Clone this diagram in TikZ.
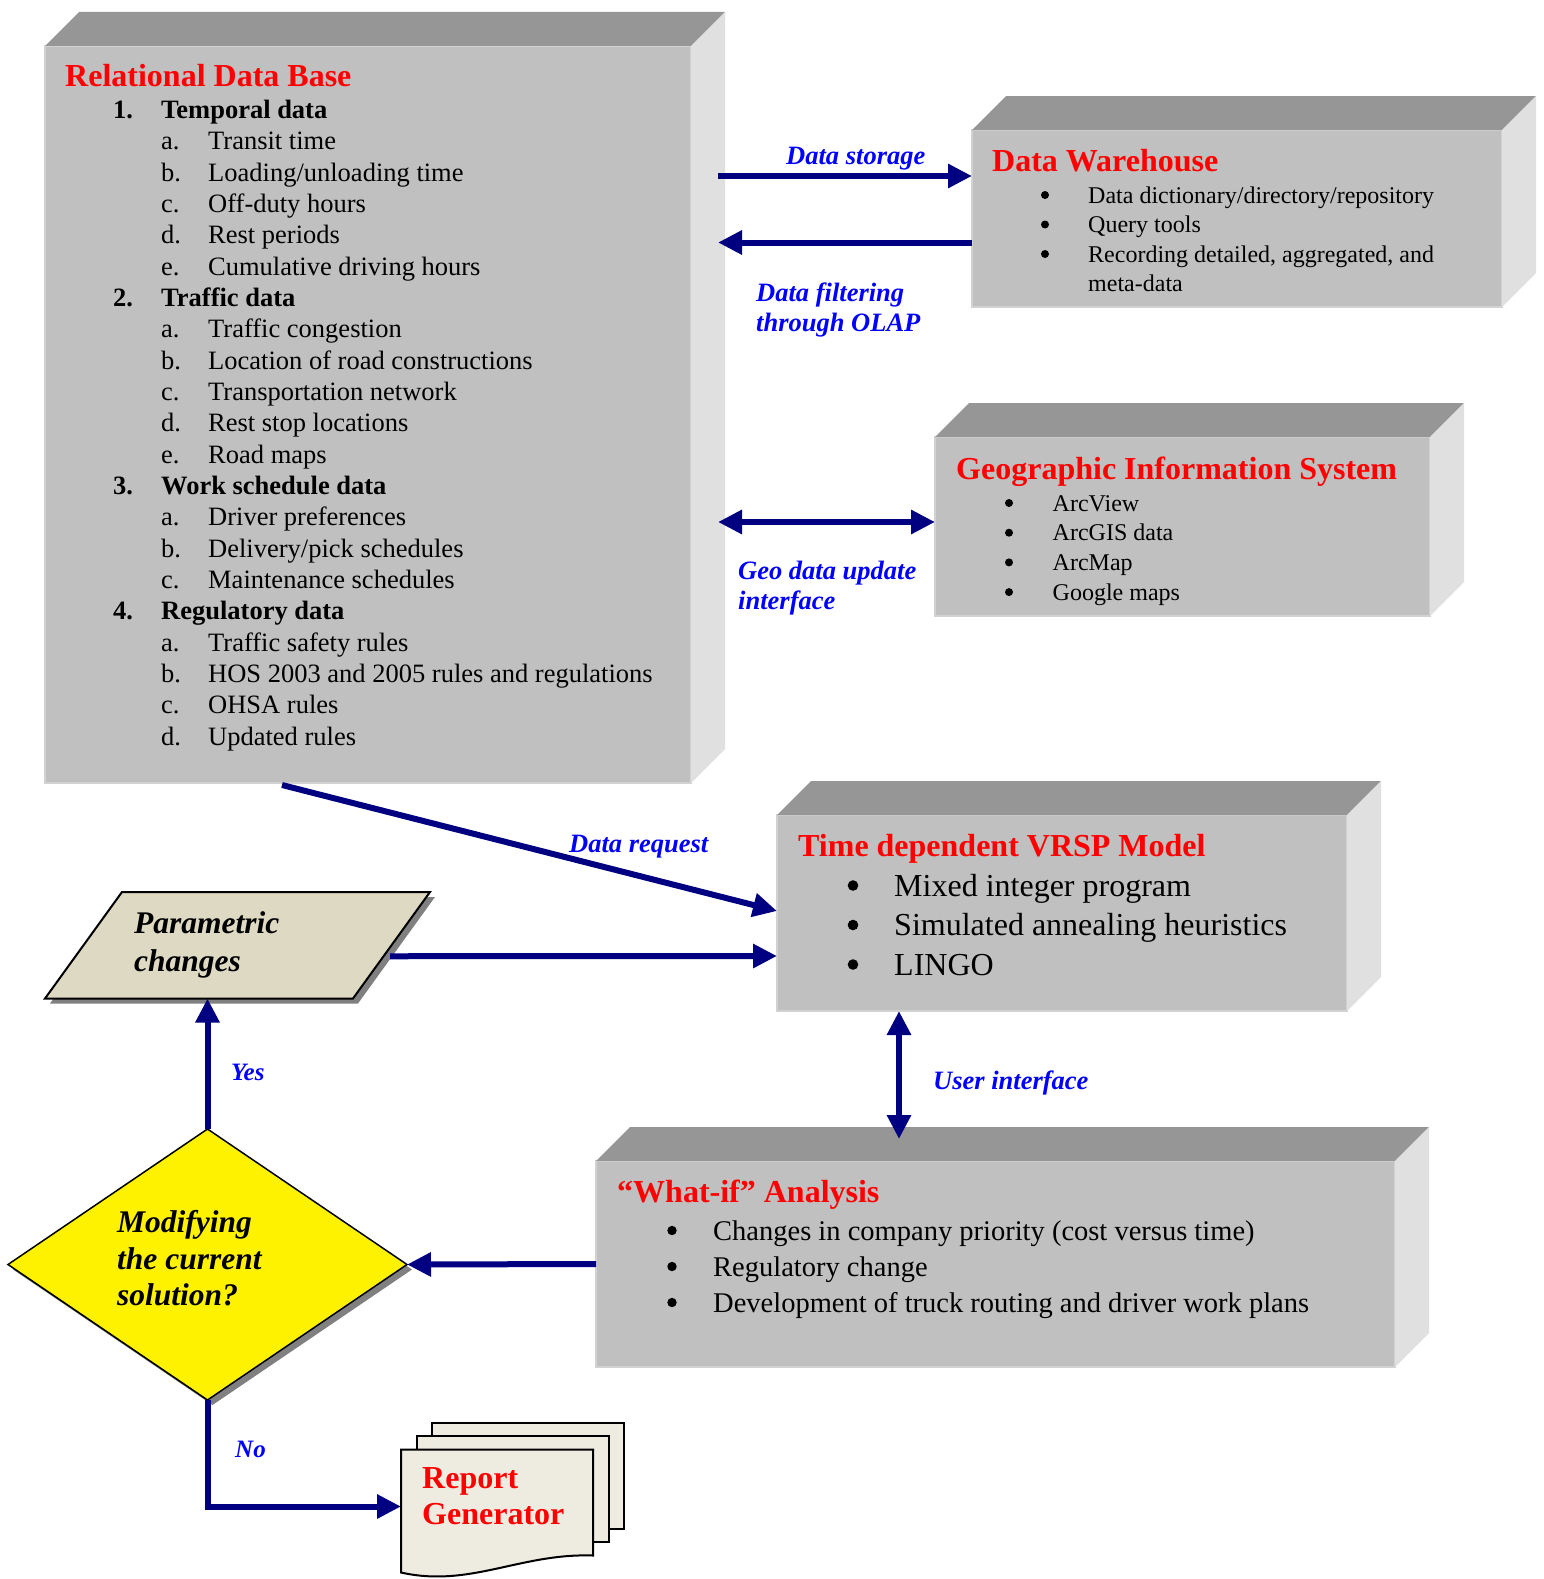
\documentclass[tikz,border=0pt]{standalone}
\usepackage{fontspec}
\setmainfont{Liberation Serif}
\usepackage{tikz}
\usetikzlibrary{positioning, arrows.meta, calc, shapes.geometric, shadows}
\definecolor{boxgray}{HTML}{C0C0C0}
\definecolor{boxtop}{HTML}{969696}
\definecolor{boxside}{HTML}{E0E0E0}
\definecolor{boxedge}{HTML}{D2D2D2}
\definecolor{flownavy}{HTML}{000080}
\definecolor{lblblue}{HTML}{0000FF}
\definecolor{titlered}{HTML}{FF0000}
\definecolor{paramtan}{HTML}{DDD9C3}
\definecolor{reportbg}{HTML}{EEECE1}
\definecolor{shadowgray}{HTML}{808080}

\begin{document}
\begin{tikzpicture}[
    x=1pt, y=-1pt,
    front/.style={
      rectangle, fill=boxgray, draw=boxedge, line width=1.5pt,
      inner sep=0pt, outer sep=0pt, anchor=north west
    },
    topface/.style={fill=boxtop},
    sideface/.style={fill=boxside},
    boxtitle/.style={
      anchor=base west, inner sep=0pt, text=titlered,
      font=\fontsize{32}{37}\selectfont\bfseries
    },
    boxlist/.style={anchor=base west, inner sep=0pt},
    lbl/.style={
      anchor=base west, inner sep=0pt, text=lblblue,
      font=\fontsize{26.5}{30.5}\selectfont\bfseries\itshape
    },
    blacklbl/.style={
      anchor=base west, inner sep=0pt,
      font=\fontsize{31.5}{37.5}\selectfont\bfseries\itshape
    },
    flow/.style={-{Triangle[length=24pt, width=23pt]}, line width=6pt, draw=flownavy},
    flowboth/.style={{Triangle[length=24pt, width=23pt]}-{Triangle[length=24pt, width=23pt]},
      line width=6pt, draw=flownavy},
    sheet/.style={fill=reportbg, draw=black, line width=2pt},
    shadowed/.style={drop shadow={shadow xshift=5pt, shadow yshift=-5pt,
      fill=shadowgray, opacity=1}},
  ]
  \useasboundingbox (0,0) rectangle (1543,1579);

  % 3D boxes
  \node[front, minimum width=646pt, minimum height=737pt] (rdb)    at (45,46)    {};
  \node[front, minimum width=530pt, minimum height=177pt] (dw)     at (972,130)  {};
  \node[front, minimum width=495pt, minimum height=179pt] (gis)    at (935,437)  {};
  \node[front, minimum width=570pt, minimum height=196pt] (vrsp)   at (777,815)  {};
  \node[front, minimum width=799pt, minimum height=206pt] (whatif) at (596,1161) {};

  \foreach \b in {rdb, dw, gis, vrsp, whatif} {
    \fill[topface] (\b.north west) -- ++(34,-34) -- ($(\b.north east)+(34,-34)$)
      -- (\b.north east) -- cycle;
    \fill[sideface] (\b.north east) -- ++(34,-34) -- ($(\b.south east)+(34,-34)$)
      -- (\b.south east) -- cycle;
  }

  \node[boxtitle] (rdbtitle) at (65,86) {Relational Data Base};
  \node[boxlist, font=\fontsize{26.5}{31.33}\selectfont] (rdblist) at (113,118.5) {%
    \begin{tabular}[t]{@{}p{48pt}@{}p{47pt}@{}l@{}}
      \textbf{1.} & \multicolumn{2}{@{}l@{}}{\textbf{Temporal data}}\\
      & a. & Transit time\\
      & b. & Loading/unloading time\\
      & c. & Off-duty hours\\
      & d. & Rest periods\\
      & e. & Cumulative driving hours\\
      \textbf{2.} & \multicolumn{2}{@{}l@{}}{\textbf{Traffic data}}\\
      & a. & Traffic congestion\\
      & b. & Location of road constructions\\
      & c. & Transportation network\\
      & d. & Rest stop locations\\
      & e. & Road maps\\
      \textbf{3.} & \multicolumn{2}{@{}l@{}}{\textbf{Work schedule data}}\\
      & a. & Driver preferences\\
      & b. & Delivery/pick schedules\\
      & c. & Maintenance schedules\\
      \textbf{4.} & \multicolumn{2}{@{}l@{}}{\textbf{Regulatory data}}\\
      & a. & Traffic safety rules\\
      & b. & HOS 2003 and 2005 rules and regulations\\
      & c. & OHSA rules\\
      & d. & Updated rules
    \end{tabular}};

  \node[boxtitle] (dwtitle) at (992,171) {Data Warehouse};
  \node[boxlist, font=\fontsize{24}{29.5}\selectfont] (dwlist) at (1088,203) {%
    \begin{tabular}[t]{@{}l@{}}
      Data dictionary/directory/repository\\
      Query tools\\
      Recording detailed, aggregated, and\\
      meta-data
    \end{tabular}};
  \foreach \k in {0,1,2}
    \fill ($(dwlist.base west)+(-43,{-8+29.5*\k})$) circle[radius=4pt];

  \node[boxtitle] (gistitle) at (956,479) {Geographic Information System};
  \node[boxlist, font=\fontsize{24}{29.7}\selectfont] (gislist) at (1052.5,511) {%
    \begin{tabular}[t]{@{}l@{}}
      ArcView\\
      ArcGIS data\\
      ArcMap\\
      Google maps
    \end{tabular}};
  \foreach \k in {0,1,2,3}
    \fill ($(gislist.base west)+(-43.5,{-8+29.7*\k})$) circle[radius=4pt];

  \node[boxtitle] (vrsptitle) at (798,856.5) {Time dependent VRSP Model};
  \node[boxlist, font=\fontsize{32}{39.5}\selectfont] (vrsplist) at (894,896) {%
    \begin{tabular}[t]{@{}l@{}}
      Mixed integer program\\
      Simulated annealing heuristics\\
      LINGO
    \end{tabular}};
  \foreach \k in {0,1,2}
    \fill ($(vrsplist.base west)+(-41,{-10.5+39.5*\k})$) circle[radius=5.3pt];

  \node[boxtitle] (whatiftitle) at (617,1202.5) {“What-if” Analysis};
  \node[boxlist, font=\fontsize{28.5}{36}\selectfont] (whatiflist) at (713,1240) {%
    \begin{tabular}[t]{@{}l@{}}
      Changes in company priority (cost versus time)\\
      Regulatory change\\
      Development of truck routing and driver work plans
    \end{tabular}};
  \foreach \k in {0,1,2}
    \fill ($(whatiflist.base west)+(-41,{-9.5+36*\k})$) circle[radius=4.7pt];

  % parametric changes
  \node[inner sep=0pt, outer sep=0pt, minimum width=385pt, minimum height=106.5pt,
        anchor=north west] (param) at (45,892) {};
  \draw[fill=paramtan, line width=2pt, shadowed] (param.south west)
    -- ($(param.north west)+(77,0)$) -- (param.north east)
    -- ($(param.south east)+(-77,0)$) -- cycle;
  \node[blacklbl] (paramtext) at (134,933.5)
    {\begin{tabular}[t]{@{}l@{}}Parametric\\changes\end{tabular}};

  % decision
  \node[diamond, draw, fill=yellow, line width=1.5pt, inner sep=0pt, outer sep=0pt,
        minimum width=399pt, minimum height=271pt, shadowed] (decide) at (207.5,1264.5) {};
  \node[blacklbl, font=\fontsize{31.5}{36.7}\selectfont\bfseries\itshape] (decidetext)
    at (117,1232.5)
    {\begin{tabular}[t]{@{}l@{}}Modifying\\the current\\solution?\end{tabular}};

  % report generator
  \node[inner sep=0pt, outer sep=0pt, minimum width=192pt, minimum height=106pt,
        anchor=north west] (report) at (401,1449.5) {};
  \draw[sheet] ($(report.north west)+(31,-26.5)$) rectangle ($(report.south east)+(31,-26.5)$);
  \draw[sheet] ($(report.north west)+(16,-13.5)$) rectangle ($(report.south east)+(16,-13.5)$);
  \draw[sheet] (report.north west) -- (report.north east) -- (report.south east)
    .. controls ($(report.south east)+(-73,-2.5)$) and ($(report.south west)+(69,32.5)$)
    .. ($(report.south west)+(0,17)$) -- cycle;
  \node[boxtitle, font=\fontsize{32}{36.3}\selectfont\bfseries] (reporttext) at (422,1488)
    {\begin{tabular}[t]{@{}l@{}}Report\\Generator\end{tabular}};

  % labels
  \node[lbl] (lstore)  at (786,164.5) {Data storage};
  \node[lbl] (lfilter) at (756,301)
    {\begin{tabular}[t]{@{}l@{}}Data filtering\\through OLAP\end{tabular}};
  \node[lbl] (lgeo)    at (738,579)
    {\begin{tabular}[t]{@{}l@{}}Geo data update\\interface\end{tabular}};
  \node[lbl] (lreq)    at (569,852) {Data request};
  \node[lbl] (lui)     at (933,1089.5) {User interface};
  \node[lbl, font=\fontsize{25}{30}\selectfont\bfseries\itshape] (lyes) at (231,1080) {Yes};
  \node[lbl, font=\fontsize{25}{30}\selectfont\bfseries\itshape] (lno)  at (235,1457) {No};

  % connectors
  \draw[flow] ($(rdb.east |- dw.west)+(27,-42.5)$) -- ($(dw.west)+(0,-42.5)$);
  \draw[flow] ($(dw.west)+(0,24)$) -- ($(rdb.east |- dw.west)+(27,24)$);
  \draw[flowboth] ($(rdb.east |- gis.west)+(27,-4.5)$) -- ($(gis.west)+(0,-4.5)$);
  \draw[flow] ($(rdb.south west)+(237,2)$) -- ($(vrsp.west)+(0,-2)$);
  \draw[flow] ($(param.east)+(-40,11)$) -- ($(vrsp.west)+(0,43)$);
  \draw[flowboth] ($(vrsp.south west)+(122,0)$) coordinate (ui)
    -- ($(ui |- whatif.north)+(0,-22)$);
  \draw[flow] (whatif.west) -- (decide.east);
  \draw[flow] (decide.north) -- (decide.north |- param.south);
  \draw[flow] (decide.south) |- ($(report.west)+(0,4)$);

\end{tikzpicture}
\end{document}
